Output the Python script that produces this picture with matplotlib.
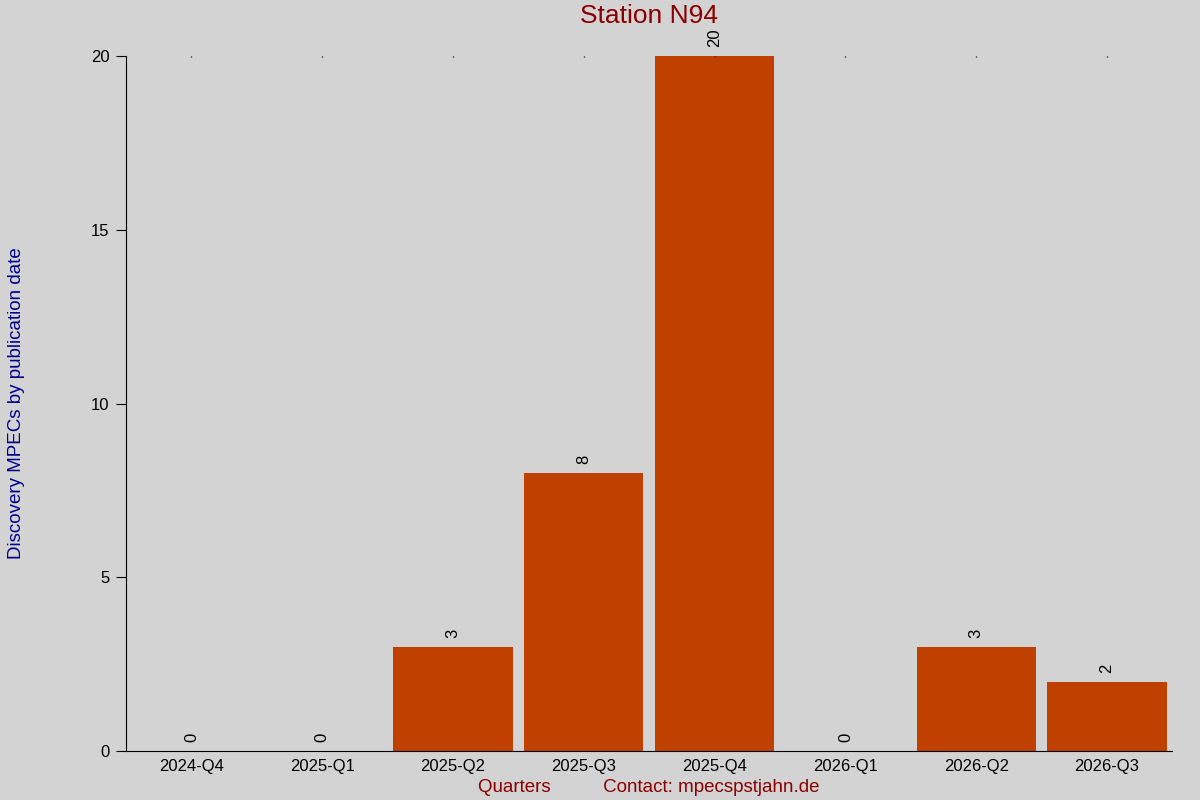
import matplotlib.pyplot as plt

plt.rcParams['font.family'] = ['Liberation Sans', 'DejaVu Sans']

quarters = ["2024-Q4", "2025-Q1", "2025-Q2", "2025-Q3", "2025-Q4", "2026-Q1", "2026-Q2", "2026-Q3"]
counts = [0, 0, 3, 8, 20, 0, 3, 2]
y_ticks = [0, 5, 10, 15, 20]

fig = plt.figure(figsize=(12, 8), dpi=100, facecolor="#d3d3d3")
ax = fig.add_axes([0.105, 0.06125, 0.872, 0.86875], facecolor="#d3d3d3")

x = range(len(quarters))
bars = ax.bar(x, counts, width=0.91, color="#c04000")
for xi, v in zip(x, counts):
    ax.text(xi, v + 0.25, str(v), rotation=90, ha="center", va="bottom", fontsize=12)

ax.set_xlim(-0.5, len(quarters) - 0.5)
ax.set_ylim(0, 20)
ax.set_xticks(list(x))
ax.set_xticklabels(quarters, fontsize=12)
ax.set_yticks(y_ticks)
ax.tick_params(axis="y", labelsize=12, length=7, pad=5)
ax.tick_params(axis="x", bottom=False, top=True, length=1, width=1, direction="in", pad=6)

for side in ["top", "right"]:
    ax.spines[side].set_visible(False)

ax.set_title("Station N94", fontsize=19, color="#8b0000", pad=24)
ax.set_ylabel("Discovery MPECs by publication date", fontsize=13.5, color="#00008b", labelpad=47)
ax.set_xlabel("Quarters          Contact: mpecspstjahn.de", fontsize=13.5, color="#8b0000", labelpad=3)

fig.savefig("out.png", dpi=100, facecolor=fig.get_facecolor())
